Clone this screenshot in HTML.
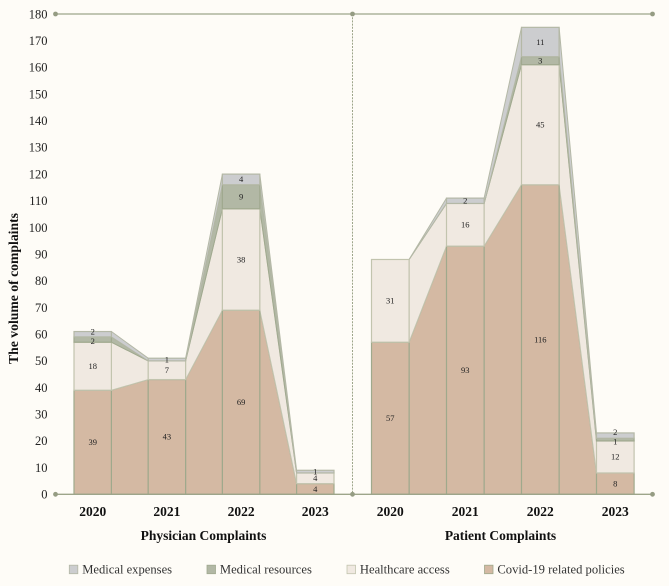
<!DOCTYPE html>
<html>
<head>
<meta charset="utf-8">
<title>The volume of complaints</title>
<style>
html,body{margin:0;padding:0;background:#fefcf7;}
svg{display:block;font-family:"Liberation Serif",serif;}
</style>
</head>
<body>
<svg id="chart" xmlns="http://www.w3.org/2000/svg" width="669" height="586" viewBox="0 0 669 586">
<rect x="0" y="0" width="669" height="586" fill="#fefcf7"/>
<g id="marks"></g>
<g id="axes"></g>
<text x="0" y="0" transform="translate(18,288.5) rotate(-90)" text-anchor="middle" font-size="13.7" font-weight="bold" fill="#111">The volume of complaints</text>
<g id="legend"></g>
</svg>
<script>
const years = ["2020", "2021", "2022", "2023"];
const seriesNames = ["Covid-19 related policies", "Healthcare access", "Medical resources", "Medical expenses"];
const physicianCovid = [39, 43, 69, 4];
const physicianAccess = [18, 7, 38, 4];
const physicianResources = [2, 0, 9, 0];
const physicianExpenses = [2, 1, 4, 1];
const patientCovid = [57, 93, 116, 8];
const patientAccess = [31, 16, 45, 12];
const patientResources = [0, 0, 3, 1];
const patientExpenses = [0, 2, 11, 2];
const yTicks = [0,10,20,30,40,50,60,70,80,90,100,110,120,130,140,150,160,170,180];
const panelTitles = ["Physician Complaints", "Patient Complaints"];

const NS = "http://www.w3.org/2000/svg";
const fills = ["#d4b9a3", "#f0e9e1", "#b2b8a5", "#cccdcf"];
const strokes = ["#9fa98c", "#c2c4ae", "#a0a98f", "#b4b8a6"];
const axisColor = "#9da58a";

function y(v){ return 494.3 - v * (480.3 / 180); }
function barLeft(panel, i){ return panel === 0 ? 74 + i * 74.2 : 371.5 + i * 75; }
function barWidth(panel){ return panel === 0 ? 37.4 : 37.6; }

function make(tag, attrs, parent){
  const el = document.createElementNS(NS, tag);
  for (const k in attrs) el.setAttribute(k, attrs[k]);
  parent.appendChild(el);
  return el;
}

const marks = document.getElementById("marks");
const axes = document.getElementById("axes");
const legend = document.getElementById("legend");

const panels = [
  [physicianCovid, physicianAccess, physicianResources, physicianExpenses],
  [patientCovid, patientAccess, patientResources, patientExpenses]
];

panels.forEach(function(series, p){
  const w = barWidth(p);
  // connecting areas
  series.forEach(function(values, s){
    for (let i = 0; i < years.length - 1; i++) {
      let b0 = 0, b1 = 0;
      for (let k = 0; k < s; k++) { b0 += series[k][i]; b1 += series[k][i + 1]; }
      const x0 = barLeft(p, i) + w, x1 = barLeft(p, i + 1);
      const pts = [[x0, y(b0)], [x1, y(b1)], [x1, y(b1 + values[i + 1])], [x0, y(b0 + values[i])]];
      const area = make("polygon", {
        points: pts.map(function(q){ return q.join(","); }).join(" "),
        fill: fills[s], stroke: strokes[s], "stroke-width": 1, "stroke-linejoin": "round"
      }, marks);
      
      
    }
  });
  // bars and labels
  years.forEach(function(year, i){
    let base = 0;
    const labels = [];
    series.forEach(function(values, s){
      const v = values[i];
      if (v > 0) {
        const bar = make("rect", {
          x: barLeft(p, i), y: y(base + v), width: w, height: y(base) - y(base + v),
          fill: fills[s], stroke: strokes[s], "stroke-width": 1.2
        }, marks);
        
        
        labels.push({value: v, cy: (y(base) + y(base + v)) / 2});
      }
      base += v;
    });
    // push apart labels that would collide in thin segments
    for (let k = 1; k < labels.length; k++) {
      const gap = labels[k - 1].cy - labels[k].cy;
      if (gap < 6) {
        const need = 9.3 - gap;
        labels[k - 1].cy += need / 2 - 0.5;
        labels[k].cy -= need / 2 + 0.5;
      }
    }
    labels.forEach(function(item){
      const label = make("text", {
        x: barLeft(p, i) + w / 2, y: item.cy + 2.8,
        "text-anchor": "middle", "font-size": 8.5, fill: "#222"
      }, marks);
      label.textContent = item.value;
      
      
    });
    const yearLabel = make("text", {
      x: barLeft(p, i) + w / 2, y: 516, "text-anchor": "middle",
      "font-size": 13.5, "font-weight": "bold", fill: "#111"
    }, axes);
    yearLabel.textContent = year;
    
    
  });
  const title = make("text", {
    x: p === 0 ? 203.5 : 500.5, y: 540, "text-anchor": "middle",
    "font-size": 13.5, "font-weight": "bold", fill: "#111"
  }, axes);
  title.textContent = panelTitles[p];
  
  
});

// y ticks
yTicks.forEach(function(t){
  const tick = make("text", {
    x: 47.5, y: y(t) + 4.3, "text-anchor": "end", "font-size": 12.5, fill: "#222"
  }, axes);
  tick.textContent = t;
  
  
});

// axis lines
const divider = make("line", {x1: 352.5, x2: 352.5, y1: y(180), y2: y(0), stroke: axisColor, "stroke-width": 1, "stroke-dasharray": "2 1.2"}, axes);



const topLine = make("line", {x1: 55.5, x2: 652.5, y1: y(180), y2: y(180), stroke: axisColor, "stroke-width": 1.3}, axes);



const baseLine = make("line", {x1: 55.5, x2: 652.5, y1: y(0), y2: y(0), stroke: axisColor, "stroke-width": 1.3}, axes);



[[55.5, 180], [352.5, 180], [652.5, 180], [55.5, 0], [352.5, 0], [652.5, 0]].forEach(function(d){
  const dot = make("circle", {cx: d[0], cy: y(d[1]), r: 2.4, fill: "#959c83"}, axes);
  
  
});

// legend
const legendOrder = [3, 2, 1, 0];
const legendSwatchX = [69.3, 207, 347, 484.5];
legendOrder.forEach(function(s, i){
  const swatch = make("rect", {x: legendSwatchX[i], y: 565.2, width: 8.5, height: 8.5, fill: fills[s], stroke: strokes[s], "stroke-width": 0.8}, legend);
  
  
  const text = make("text", {x: legendSwatchX[i] + 12.9, y: 573.3, "font-size": 12.6, fill: "#333"}, legend);
  text.textContent = seriesNames[s];
  
  
});
</script>
</body>
</html>
